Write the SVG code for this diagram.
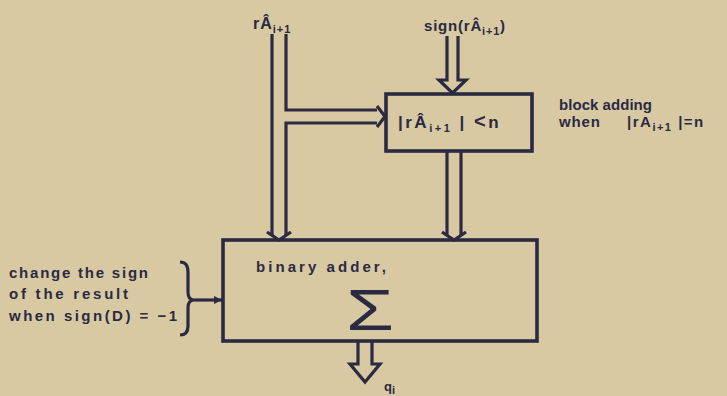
<svg xmlns="http://www.w3.org/2000/svg" width="727" height="396" viewBox="0 0 727 396">
<style>
.ink{fill:none;stroke:#2a2a42;stroke-width:3.2;stroke-linejoin:miter}
.box{fill:none;stroke:#2a2a42;stroke-width:3.6}
text{font-family:"Liberation Sans",Arial,sans-serif;font-weight:bold;fill:#2a2a42}
.lbl{font-size:15px}
.sub{font-size:11px}
</style>
<rect width="727" height="396" fill="#d8c9a3"/>
<g id="adder">
<rect class="box" x="223" y="240" width="314" height="101"/>
<text class="lbl" x="256" y="272" textLength="130" lengthAdjust="spacing">binary  adder,</text>
<text x="346" y="330" textLength="48" lengthAdjust="spacingAndGlyphs" style="font-size:58px;font-weight:normal">Σ</text>
</g>
<g id="limit">
<rect class="box" x="386" y="94" width="146" height="57"/>
<text x="398" y="128" style="font-size:17px;letter-spacing:2.5px">|rÂ<tspan class="sub" dy="4">i+1</tspan><tspan dy="-4"> |  <tspan style="font-size:20px">&lt;</tspan>n</tspan></text>
</g>
<g id="input-a">
<text x="253" y="29" style="font-size:16px;letter-spacing:1px">rÂ<tspan class="sub" dy="4">i+1</tspan></text>
</g>
<g id="input-sign">
<text x="424" y="31" style="font-size:15px;letter-spacing:0.8px">sign(rÂ<tspan class="sub" dy="4">i+1</tspan><tspan dy="-4">)</tspan></text>
</g>
<g id="note-block">
<text class="lbl" x="559" y="110" textLength="93" lengthAdjust="spacing">block adding</text>
<text class="lbl" x="559" y="127" textLength="41" lengthAdjust="spacing">when</text>
<text x="627" y="127" style="font-size:15px;letter-spacing:1.5px">|rA<tspan class="sub" dy="4">i+1</tspan><tspan dy="-4"> |=n</tspan></text>
</g>
<g id="note-sign">
<text class="lbl" x="9" y="278" textLength="139" lengthAdjust="spacing">change the sign</text>
<text class="lbl" x="9" y="299" textLength="119" lengthAdjust="spacing">of  the  result</text>
<text class="lbl" x="9" y="321" textLength="168" lengthAdjust="spacing">when  sign(D) = −1</text>
<path class="ink" d="M180,262 Q188,262 188,272 L188,292 Q188,300 194,300 Q188,300 188,308 L188,326 Q188,335 180,335" stroke-width="2.8"/>
</g>
<g id="output">
<text x="384" y="391" style="font-size:13px">q<tspan class="sub" dy="3">i</tspan></text>
</g>
<g id="connectors">
<path class="ink" d="M272,34 L272,236"/>
<path class="ink" d="M286,34 L286,110 L377,110"/>
<path class="ink" d="M377,123 L286,123 L286,236"/>
<path class="ink" d="M377,106 L385,116.5 L377,127" stroke-width="2.5"/>
<path class="ink" d="M267,232 L279,240 L291,232" stroke-width="2"/>
<path class="ink" d="M447,36 L447,80 L439,80 L452.5,93 L466,80 L458,80 L458,36"/>
<path class="ink" d="M447,151 L447,236 M461,151 L461,236"/>
<path class="ink" d="M442,232 L454,240 L466,232" stroke-width="2"/>
<path class="ink" d="M194,300 L222,300" stroke-width="2.5"/>
<path d="M214,296 L222,300 L214,304 Z" fill="#2a2a42"/>
<path class="ink" d="M358,342 L358,364 L350,364 L365,382 L380,364 L372,364 L372,342"/>
</g>
</svg>
